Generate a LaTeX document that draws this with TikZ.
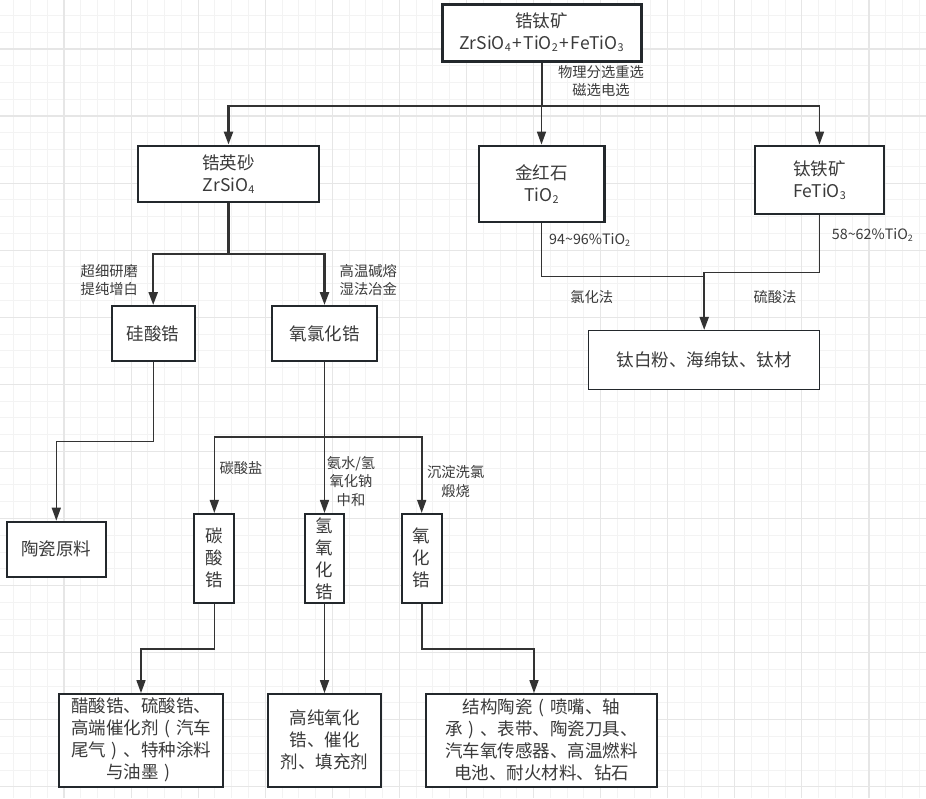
\documentclass[tikz,border=0pt]{standalone}
\usepackage{fontspec}
\usepackage{graphicx}
\setmainfont{Noto Sans CJK SC}
\usetikzlibrary{arrows.meta}
\definecolor{lnc}{HTML}{333333}
\definecolor{boxc}{HTML}{23282C}
\definecolor{txtc}{HTML}{3A3A3A}
\definecolor{gridmaj}{HTML}{E6E6E6}
\definecolor{gridmin}{HTML}{F3F3F3}
\newcommand\bfnt{\fontsize{17.5}{22}\selectfont}
\newcommand\lfnt{\fontsize{14.3}{18.3}\selectfont}
\newcommand\sbs[1]{\raisebox{-0.12em}{\scalebox{0.62}{#1}}}
\newcommand\pls{\kern1.5pt+\kern1.5pt}
\newcommand\lpar{\makebox[1em][c]{(}}
\newcommand\rpar{\makebox[1em][c]{)}}
\tikzset{
  box/.style={draw=boxc, fill=white, inner sep=0pt, align=center, text=txtc, font=\bfnt},
  lbl/.style={inner sep=0pt, align=center, text=txtc, font=\lfnt},
  conn/.style={draw=lnc, line width=1.6pt},
  thickconn/.style={draw=lnc, line width=2.4pt},
  >={Triangle[length=13pt,width=9pt]}
}
\begin{document}
\begin{tikzpicture}[x=1pt,y=-1pt]
\useasboundingbox (0,0) rectangle (926,798);
\fill[white] (0,0) rectangle (926,798);
% grid
\foreach \i in {0,...,56} {
  \draw[gridmin, line width=1pt] ({-3+\i*16.7675},0) -- ({-3+\i*16.7675},798);
}
\foreach \j in {0,...,49} {
  \draw[gridmin, line width=1pt] (0,{-18.07+\j*16.7675}) -- (926,{-18.07+\j*16.7675});
}
\foreach \i in {0,...,14} {
  \draw[gridmaj, line width=1.2pt] ({-3+\i*67.07},0) -- ({-3+\i*67.07},798);
}
\foreach \j in {0,...,12} {
  \draw[gridmaj, line width=1.2pt] (0,{-18.07+\j*67.07}) -- (926,{-18.07+\j*67.07});
}

% boxes
\node[box, line width=3pt, minimum width=199pt, minimum height=57pt] (top) at (541.5,32.5)
  {锆钛矿\\ZrSiO\sbs{4}\pls TiO\sbs{2}\pls FeTiO\sbs{3}};
\node[box, line width=2.3pt, minimum width=180.4pt, minimum height=56.6pt] (zys) at (228.5,174) {锆英砂\\ZrSiO\sbs{4}};
\node[box, line width=2.3pt, minimum width=125.7pt, minimum height=76.6pt] (jhs) at (541.5,184) {金红石\\TiO\sbs{2}};
\node[box, line width=2.3pt, minimum width=129.6pt, minimum height=68.6pt] (tty) at (819.5,180) {钛铁矿\\FeTiO\sbs{3}};
\node[box, line width=1.5pt, minimum width=231pt, minimum height=58.6pt] (tbf) at (704.2,360) {钛白粉、海绵钛、钛材};
\node[box, line width=2pt, minimum width=83pt, minimum height=55pt] (gsg) at (153.2,333.5) {硅酸锆};
\node[box, line width=2pt, minimum width=104.4pt, minimum height=55pt] (ylhg) at (324.5,333.5) {氧氯化锆};
\node[box, line width=2pt, minimum width=99.3pt, minimum height=55pt] (tcyl) at (56.3,549.2) {陶瓷原料};
\node[box, line width=2pt, minimum width=40pt, minimum height=88.7pt] (tsg) at (214.3,558.3) {碳\\酸\\锆};
\node[box, line width=2pt, minimum width=39.6pt, minimum height=88.7pt] (qyhg) at (324.5,558.3) {氢\\氧\\化\\锆};
\node[box, line width=2pt, minimum width=40pt, minimum height=88.7pt] (yhg) at (421.7,558.3) {氧\\化\\锆};
\node[box, line width=1.7pt, minimum width=164pt, minimum height=92.7pt] (b1) at (141,740.3)
  {醋酸锆、硫酸锆、\\高端催化剂\lpar 汽车\\尾气\rpar 、特种涂料\\与油墨\rpar};
\node[box, line width=1.7pt, minimum width=112.4pt, minimum height=92.7pt] (b2) at (324.5,740.3)
  {高纯氧化\\锆、催化\\剂、填充剂};
\node[box, line width=1.7pt, minimum width=231.6pt, minimum height=92.7pt] (b3) at (541.5,740.3)
  {结构陶瓷\lpar 喷嘴、轴\\承\rpar 、表带、陶瓷刀具、\\汽车氧传感器、高温燃料\\电池、耐火材料、钻石};

% labels
\node[lbl] (l1) at (601,81) {物理分选重选\\磁选电选};
\node[lbl] (l2) at (109.3,280) {超细研磨\\提纯增白};
\node[lbl] (l3) at (368.3,280) {高温碱熔\\湿法冶金};
\node[lbl, anchor=west] (l4) at (549,240) {94\textasciitilde96\%TiO\sbs{2}};
\node[lbl, anchor=west] (l5) at (831.7,235) {58\textasciitilde62\%TiO\sbs{2}};
\node[lbl] (l6) at (591.7,296.7) {氯化法};
\node[lbl] (l7) at (775,296.7) {硫酸法};
\node[lbl, anchor=west] (l8) at (219.3,468.3) {碳酸盐};
\node[lbl] (l9) at (351,481.5) {氨水/氢\\氧化钠\\中和};
\node[lbl] (l10) at (455.7,481.4) {沉淀洗氯\\煅烧};

% connectors
\coordinate (s1) at (541.5,106);
\draw[conn, line width=2pt] (top) -- (s1);
\draw[thickconn, ->] (s1) -| (zys);
\draw[conn, ->] (s1) -- (jhs);
\draw[conn, ->] (s1) -| (tty);

\coordinate (s2) at (228.5,254);
\draw[thickconn] (zys) -- (s2);
\draw[thickconn, ->] (s2) -| (gsg);
\draw[thickconn, ->] (s2) -| (ylhg);

\coordinate (s3) at (153.2,441.7);
\draw[conn, line width=1.4pt, ->] (gsg) -- (s3) -| (tcyl);

\coordinate (s4) at (324.5,436.7);
\draw[conn] (ylhg) -- (s4);
\draw[conn, ->] (s4) -| (tsg);
\draw[conn, ->] (s4) -- (qyhg);
\draw[conn, ->] (s4) -| (yhg);

\coordinate (s5) at (214.3,649);
\draw[conn, ->] (tsg) -- (s5) -| (b1);
\draw[conn, ->] (qyhg) -- (b2);
\coordinate (s6) at (421.7,649);
\coordinate (s7) at (534,649);
\draw[conn, ->] (yhg) -- (s6) -- (s7) -- (s7 |- b3.north);

\coordinate (s8) at (541.5,276.7);
\coordinate (s9) at (704.2,276.7);
\coordinate (s10) at (819.5,272.3);
\coordinate (s11) at (704.2,272.3);
\draw[conn, line width=1.4pt] (jhs) -- (s8) -- (s9);
\draw[conn, line width=1.4pt] (tty) -- (s10) -- (s11);
\draw[conn, line width=2pt, ->] (s11) -- (tbf);
\end{tikzpicture}
\end{document}
